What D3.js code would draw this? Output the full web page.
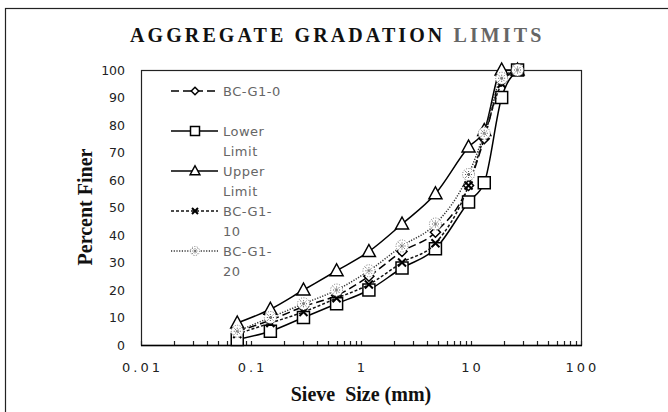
<!DOCTYPE html>
<html>
<head>
<meta charset="utf-8">
<script src="https://cdn.jsdelivr.net/npm/d3@7"></script>
<style>
  body { margin: 0; background: #fff; }
  svg { display: block; }
</style>
</head>
<body>
<div id="chart-container"></div>
<script>
// chart size
const width = 668;
const height = 412;

// data
const sieveSizes = [0.075, 0.15, 0.3, 0.6, 1.18, 2.36, 4.75, 9.5, 13.2, 19, 26.5];
const bcG10 = [5, 9, 14, 18, 25, 34, 41, 58, 75, 96, 100];
const lowerLimit = [2, 5, 10, 15, 20, 28, 35, 52, 59, 90, 100];
const upperLimit = [8, 13, 20, 27, 34, 44, 55, 72, 78, 100, 100];
const bcG110 = [4, 8, 12, 17, 22, 30, 37, 58, 76, 95, 100];
const bcG120 = [5, 10, 15, 20, 27, 36, 44, 62, 77, 97, 100];

const xTicks = [0.01, 0.1, 1, 10, 100];
const yTicks = [0, 10, 20, 30, 40, 50, 60, 70, 80, 90, 100];

const series = [
  { name: ["BC-G1-0"], values: bcG10, dash: "8,4", marker: "diamond", color: "#000" },
  { name: ["Lower", "Limit"], values: lowerLimit, dash: null, marker: "square", color: "#000" },
  { name: ["Upper", "Limit"], values: upperLimit, dash: null, marker: "triangle", color: "#000" },
  { name: ["BC-G1-", "10"], values: bcG110, dash: "3,2", marker: "times", color: "#111" },
  { name: ["BC-G1-", "20"], values: bcG120, dash: "1.2,1.5", marker: "star", color: "#333" }
];

const plot = { left: 141, right: 581, top: 70, bottom: 345 };

const svg = d3.select("#chart-container")
  .append("svg")
  .attr("width", width)
  .attr("height", height);

// outer chart border
svg.append("rect")
  .attr("x", 5.5)
  .attr("y", 8.5)
  .attr("width", 700)
  .attr("height", 450)
  .attr("fill", "none")
  .attr("stroke", "#222")
  .attr("stroke-width", 1.2);

const x = d3.scaleLog().domain([0.01, 100]).range([plot.left, plot.right]);
const y = d3.scaleLinear().domain([0, 100]).range([plot.bottom, plot.top]);

// title
const title = svg.append("text")
  .attr("x", 130)
  .attr("y", 42)
  .style("font-family", "'Liberation Serif', 'Times New Roman', serif")
  .style("font-weight", "bold")
  .style("font-size", "20px")
  .style("letter-spacing", "3.1px");
title.append("tspan").attr("fill", "#111").text("AGGREGATE GRADATION ");
title.append("tspan").attr("fill", "#666").text("LIMITS");

// plot frame
svg.append("rect")
  .attr("x", plot.left + 0.5)
  .attr("y", plot.top + 0.5)
  .attr("width", plot.right - plot.left)
  .attr("height", plot.bottom - plot.top)
  .attr("fill", "none")
  .attr("stroke", "#222")
  .attr("stroke-width", 1.2);

// x axis minor + major ticks (pointing inward)
const allTicks = x.ticks();
svg.append("g")
  .selectAll("line")
  .data(allTicks)
  .enter()
  .append("line")
  .attr("x1", d => Math.round(x(d)) + 0.5)
  .attr("x2", d => Math.round(x(d)) + 0.5)
  .attr("y1", plot.bottom)
  .attr("y2", plot.bottom - 4)
  .attr("stroke", "#222")
  .attr("stroke-width", 1.2);

// bottom axis line (darker)
svg.append("line")
  .attr("x1", plot.left)
  .attr("x2", plot.right + 1)
  .attr("y1", plot.bottom + 0.5)
  .attr("y2", plot.bottom + 0.5)
  .attr("stroke", "#000")
  .attr("stroke-width", 1.6);

// x tick labels
svg.append("g")
  .selectAll("text")
  .data(xTicks)
  .enter()
  .append("text")
  .attr("x", d => x(d) + 1.5)
  .attr("y", 372)
  .attr("text-anchor", "middle")
  .attr("fill", "#222")
  .style("font-family", "'DejaVu Sans', sans-serif")
  .style("font-size", "13px")
  .style("letter-spacing", "3px")
  .text(d => d);

// y tick labels
svg.append("g")
  .selectAll("text")
  .data(yTicks)
  .enter()
  .append("text")
  .attr("x", 125)
  .attr("y", d => y(d) + 4.5)
  .attr("text-anchor", "end")
  .attr("fill", "#222")
  .style("font-family", "'DejaVu Sans', sans-serif")
  .style("font-size", "12.5px")
  .text(d => d);

// axis titles
svg.append("text")
  .attr("x", 361)
  .attr("y", 401)
  .attr("text-anchor", "middle")
  .attr("fill", "#111")
  .style("font-family", "'Liberation Serif', 'Times New Roman', serif")
  .style("font-weight", "bold")
  .style("font-size", "20px")
  .style("white-space", "pre")
  .text("Sieve  Size (mm)");

svg.append("text")
  .attr("transform", "translate(92,207) rotate(-90)")
  .attr("text-anchor", "middle")
  .attr("fill", "#111")
  .style("font-family", "'Liberation Serif', 'Times New Roman', serif")
  .style("font-weight", "bold")
  .style("font-size", "20px")
  .text("Percent Finer");

// marker drawing helper, k scales the marker size
function drawMarker(g, type, cx, cy, k) {
  const s = k || 1;
  if (type === "square") {
    g.append("rect")
      .attr("x", cx - 6 * s).attr("y", cy - 6 * s)
      .attr("width", 12 * s).attr("height", 12 * s)
      .attr("fill", "#fff").attr("stroke", "#000").attr("stroke-width", 1.5);
  } else if (type === "triangle") {
    g.append("path")
      .attr("d", `M${cx},${cy - 7 * s}L${cx + 6.5 * s},${cy + 5 * s}L${cx - 6.5 * s},${cy + 5 * s}Z`)
      .attr("fill", "#fff").attr("stroke", "#000").attr("stroke-width", 1.5);
  } else if (type === "diamond") {
    g.append("path")
      .attr("d", `M${cx},${cy - 5 * s}L${cx + 5 * s},${cy}L${cx},${cy + 5 * s}L${cx - 5 * s},${cy}Z`)
      .attr("fill", "#fff").attr("stroke", "#000").attr("stroke-width", 1.5);
  } else if (type === "times") {
    g.append("path")
      .attr("d", `M${cx - 4 * s},${cy - 4 * s}L${cx + 4 * s},${cy + 4 * s}M${cx - 4 * s},${cy + 4 * s}L${cx + 4 * s},${cy - 4 * s}`)
      .attr("fill", "none").attr("stroke", "#000").attr("stroke-width", 2);
  } else if (type === "star") {
    g.append("circle")
      .attr("cx", cx).attr("cy", cy).attr("r", 6 * s)
      .attr("fill", "#fff").attr("stroke", "#777")
      .attr("stroke-width", 1).attr("stroke-dasharray", "1,1.5");
    const r = 3.5 * s;
    g.append("path")
      .attr("d", `M${cx - r},${cy - r}L${cx + r},${cy + r}M${cx - r},${cy + r}L${cx + r},${cy - r}M${cx},${cy - r}L${cx},${cy + r}M${cx - r},${cy}L${cx + r},${cy}`)
      .attr("fill", "none").attr("stroke", "#555")
      .attr("stroke-width", 1).attr("stroke-dasharray", "1,1");
  }
}

const line = d3.line()
  .x((d, i) => x(sieveSizes[i]))
  .y(d => y(d))
  .curve(d3.curveMonotoneX);

// series
series.forEach(s => {
  const g = svg.append("g");
  g.append("path")
    .datum(s.values)
    .attr("d", line)
    .attr("fill", "none")
    .attr("stroke", s.color)
    .attr("stroke-width", 1.5)
    .attr("stroke-dasharray", s.dash);
  s.values.forEach((v, i) => drawMarker(g, s.marker, x(sieveSizes[i]), y(v)));
});

// legend
const legendRows = [91, 131, 171, 211, 251];
series.forEach((s, k) => {
  const g = svg.append("g");
  const ly = legendRows[k];
  g.append("line")
    .attr("x1", 171).attr("x2", 218)
    .attr("y1", ly).attr("y2", ly)
    .attr("stroke", s.color)
    .attr("stroke-width", 1.5)
    .attr("stroke-dasharray", s.dash);
  drawMarker(g, s.marker, 195, ly, 0.75);
  s.name.forEach((t, j) => {
    g.append("text")
      .attr("x", 223)
      .attr("y", ly + 5 + j * 20)
      .attr("fill", "#666")
      .style("font-family", "'DejaVu Sans', sans-serif")
      .style("font-size", "13px")
      .style("letter-spacing", "0.5px")
      .text(t);
  });
});
</script>
</body>
</html>
